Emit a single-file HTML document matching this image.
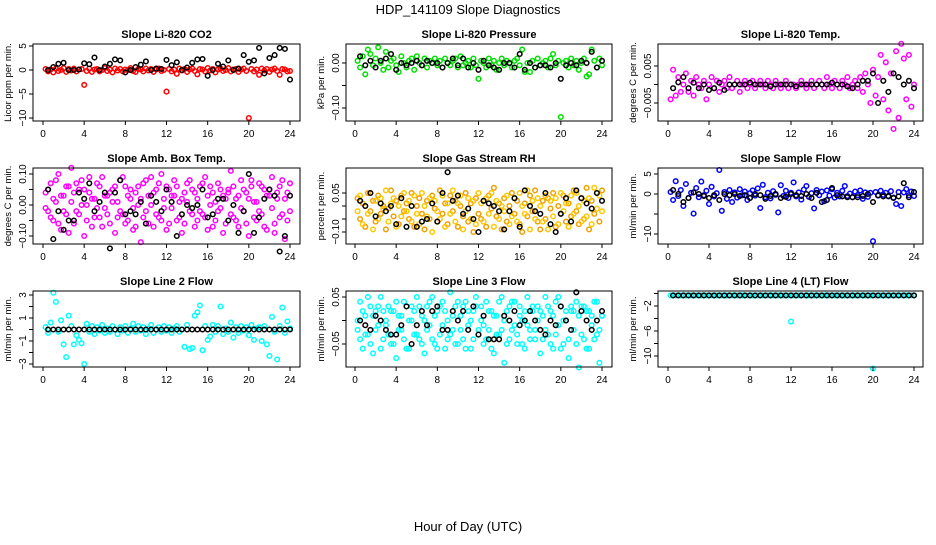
<!DOCTYPE html>
<html><head><meta charset="utf-8"><style>
html,body{margin:0;padding:0;background:#fff;}
svg text{font-family:"Liberation Sans",sans-serif;}
</style></head><body>
<svg id="fig" width="936" height="540" xmlns="http://www.w3.org/2000/svg">
<rect width="936" height="540" fill="#fff"/>
<text x="468" y="14" text-anchor="middle" font-size="13">HDP_141109  Slope Diagnostics</text>
<text x="468" y="531" text-anchor="middle" font-size="13">Hour of Day (UTC)</text>
</svg>
<script>
const hours96=[0.25,0.5,0.75,1,1.25,1.5,1.75,2,2.25,2.5,2.75,3,3.25,3.5,3.75,4,4.25,4.5,4.75,5,5.25,5.5,5.75,6,6.25,6.5,6.75,7,7.25,7.5,7.75,8,8.25,8.5,8.75,9,9.25,9.5,9.75,10,10.25,10.5,10.75,11,11.25,11.5,11.75,12,12.25,12.5,12.75,13,13.25,13.5,13.75,14,14.25,14.5,14.75,15,15.25,15.5,15.75,16,16.25,16.5,16.75,17,17.25,17.5,17.75,18,18.25,18.5,18.75,19,19.25,19.5,19.75,20,20.25,20.5,20.75,21,21.25,21.5,21.75,22,22.25,22.5,22.75,23,23.25,23.5,23.75,24];
const hours48=[0.5,1,1.5,2,2.5,3,3.5,4,4.5,5,5.5,6,6.5,7,7.5,8,8.5,9,9.5,10,10.5,11,11.5,12,12.5,13,13.5,14,14.5,15,15.5,16,16.5,17,17.5,18,18.5,19,19.5,20,20.5,21,21.5,22,22.5,23,23.5,24];
const xTicks=[0,4,8,12,16,20,24];

const co2Color=[0.2,-0.3,0.1,-0.5,0.3,-0.2,0,0.4,-0.4,0.2,-0.1,0.3,-0.3,0.1,0.2,-3.1,-0.2,0.3,-0.4,0.1,0.2,-0.3,0,0.4,-0.2,0.1,-0.5,0.3,-0.1,0.2,-0.3,0.1,0,0.4,-0.2,-0.4,0.2,0.1,-0.3,0.3,-0.1,0.2,-0.4,0.1,0.3,-0.2,0,-4.5,0.2,-0.3,0.1,-0.8,0.3,-0.1,0.2,-0.4,0.1,0.3,-0.2,-0.9,0.2,0.1,-0.3,0.4,-0.1,0.2,-0.5,0.1,0.3,-0.2,0,0.4,-0.3,0.1,0.2,-0.4,0.1,0.3,-0.2,-10,0.2,-0.3,0.1,-1.0,0.3,-0.1,0.2,-0.4,0.1,0.3,-0.2,-1.0,0.2,0.1,-0.3,-0.2];
const co2Black=[0,0.6,1.3,1.5,0,0,0.1,1.4,1.2,2.6,0,0.7,1.3,2.2,2.0,-0.5,0,0.6,1.1,1.8,0,0.3,0.2,2.1,1.0,1.6,0,0.5,1.5,2.2,2.3,-1.2,0,1.3,0.7,2.0,0,0.3,3.1,1.7,2.0,4.6,-0.7,2.5,3.1,4.6,4.4,-2.0];

const presColor=[0.005,-0.01,0.015,-0.025,0.03,0.02,-0.005,0.01,0.035,0.0,-0.015,0.025,-0.01,0.005,0.01,-0.005,-0.02,0.015,0.0,-0.01,0.005,0.01,-0.015,0.015,0.0,-0.005,0.01,-0.01,0.005,0.0,0.01,-0.005,0.005,-0.01,0.01,0.0,-0.005,0.005,0.01,-0.01,0.015,-0.005,0.0,0.005,-0.01,0.01,-0.005,-0.035,0.005,0.0,-0.01,0.01,-0.005,0.005,-0.015,0.0,0.01,-0.005,0.005,0.0,-0.01,0.005,0.01,-0.005,0.03,-0.02,0.0,-0.02,0.005,-0.01,0.01,-0.005,0.0,0.005,-0.01,0.01,0.02,-0.005,0.005,-0.12,0.0,0.005,-0.01,0.01,-0.005,0.005,-0.015,0.0,0.01,-0.03,-0.025,0.03,0.005,-0.01,0.01,-0.005];
const presBlack=[0.015,-0.005,0.005,-0.01,0.005,0.01,0.02,-0.015,0.0,-0.005,0.0,0.005,-0.005,0.005,0.0,0.0,-0.01,0.0,0.01,-0.005,0.01,-0.01,0.0,-0.015,0.005,-0.005,-0.01,-0.015,0.0,0.0,-0.01,0.02,-0.015,0.0,-0.01,-0.005,-0.005,-0.01,0.0,-0.035,-0.005,0.0,-0.005,0.005,0.0,0.025,-0.01,0.005];

const tempColor=[-0.004,0.004,-0.003,0.002,-0.002,0.0,0.003,-0.002,0.001,-0.003,0.002,0.0,-0.001,0.001,-0.004,0.0,0.002,-0.001,0.001,-0.002,0.0,0.001,-0.001,0.002,-0.001,0.0,0.001,-0.002,0.0,0.001,-0.001,0.0,0.001,-0.001,0.0,0.001,0.0,-0.001,0.001,0.0,-0.001,0.001,0.0,-0.001,0.0,0.001,-0.001,0.0,0.0,-0.001,0.0,0.001,0.0,-0.001,0.0,0.001,-0.001,0.0,0.001,0.0,-0.001,0.002,0.0,-0.001,0.001,0.0,-0.001,0.001,0.0,0.002,-0.001,0.0,0.001,-0.001,0.002,-0.002,0.003,0.0,-0.005,0.004,-0.003,0.002,0.008,-0.004,0.006,-0.007,0.003,-0.012,0.009,-0.009,0.011,0.007,-0.004,0.008,-0.006,0.0];
const tempBlack=[-0.001,0.0006,0.002,-0.001,0.0005,-0.001,0.0,-0.0015,-0.001,0.0005,-0.0015,0.0,0.0,0.0,0.0,0.0005,0.0,0.0,0.0,-0.0005,0.0,0.0,0.0,0.0,-0.0005,0.0,0.0,0.0,0.0,0.0,0.0,0.0005,0.0,0.0,-0.0005,-0.001,0.0,0.001,0.001,0.003,-0.005,0.001,-0.002,0.003,0.002,0.0,0.001,-0.001];

const boxColor=[0.04,-0.02,0.07,-0.05,0.01,0.1,-0.08,0.03,-0.03,0.06,0.12,-0.06,-0.02,0.05,0.08,-0.1,0.0,0.04,-0.07,0.02,0.07,-0.04,0.09,-0.01,0.03,-0.06,0.05,-0.09,0.01,0.08,-0.03,0.06,-0.05,0.02,-0.08,0.04,0.0,-0.12,0.07,-0.02,0.03,0.09,-0.07,0.05,-0.04,0.1,-0.01,0.06,-0.06,0.03,0.08,-0.05,0.01,-0.09,0.04,0.07,-0.02,0.05,-0.07,0.02,0.06,-0.03,0.09,-0.08,0.0,0.04,-0.05,0.07,-0.01,0.03,-0.06,0.05,0.11,-0.04,0.02,-0.07,0.08,-0.02,0.04,-0.1,0.06,0.01,-0.05,0.07,-0.03,0.05,-0.08,0.03,0.09,-0.06,0.02,-0.04,0.08,-0.11,0.04,-0.02];
const boxColor2=[-0.01,0.05,-0.04,0.02,0.08,-0.06,0.03,-0.02,0.06,-0.09,0.01,0.04,0.07,-0.03,0.0,0.05,-0.05,0.09,0.02,-0.04,-0.01,0.06,-0.07,0.03,-0.03,0.04,0.01,0.06,-0.04,-0.02,0.09,-0.06,0.03,0.05,-0.01,-0.07,0.06,0.02,-0.04,0.08,-0.06,0.0,0.04,-0.03,0.07,-0.05,0.02,-0.08,0.05,-0.01,0.03,0.06,-0.04,0.02,-0.06,0.01,0.08,-0.03,0.04,-0.05,-0.02,0.07,-0.04,0.03,0.06,-0.07,0.01,-0.02,0.05,-0.09,0.02,0.04,-0.03,0.06,-0.05,0.03,-0.01,0.05,-0.06,0.02,0.08,-0.04,0.01,-0.02,0.06,-0.07,0.03,0.05,-0.01,-0.09,0.04,0.06,-0.03,0.02,-0.05,0.07];
const boxBlack=[0.05,-0.11,-0.02,-0.08,-0.05,-0.05,0.04,0.02,0.07,-0.02,0.01,0.04,-0.14,0.04,0.08,-0.03,-0.02,-0.03,0.01,-0.06,0.03,0.01,-0.02,0.05,0.01,-0.1,-0.03,0.0,-0.01,0.0,0.05,-0.04,-0.03,0.02,0.02,-0.05,0.0,-0.09,-0.02,0.1,-0.09,-0.04,0.02,0.05,0.03,-0.15,-0.1,0.03];

const rhColor=[0.03,-0.05,0.01,-0.08,0.05,-0.02,0.02,-0.06,0.04,-0.03,0.0,-0.09,-0.01,0.06,-0.04,0.02,-0.07,0.04,-0.02,0.01,-0.05,0.05,-0.08,0.0,0.03,-0.03,-0.09,0.02,-0.05,0.04,-0.01,-0.06,0.06,-0.03,0.01,-0.07,0.04,-0.02,0.02,-0.08,0.0,-0.04,0.05,-0.06,0.01,-0.1,0.03,-0.03,-0.05,0.02,-0.08,0.04,-0.01,0.07,-0.04,0.01,-0.09,0.03,-0.06,0.0,0.05,-0.03,0.02,-0.07,-0.1,0.01,-0.04,0.04,-0.02,0.06,-0.06,-0.09,0.02,-0.05,0.03,-0.01,0.05,-0.08,0.0,-0.03,0.04,-0.06,0.01,-0.04,0.06,-0.02,-0.07,0.03,-0.05,0.07,-0.09,0.02,-0.03,0.05,-0.06,0.06];
const rhColor2=[-0.02,0.04,-0.07,0.0,-0.03,0.05,-0.09,0.02,-0.05,0.03,-0.01,0.06,-0.06,0.01,0.03,-0.08,0.0,-0.04,0.05,-0.02,0.02,-0.06,0.04,-0.03,-0.07,0.05,0.0,-0.04,0.03,-0.1,0.02,-0.02,-0.05,0.04,-0.08,0.01,-0.03,0.06,-0.06,0.01,0.04,-0.09,-0.02,0.03,-0.05,0.02,-0.07,0.05,0.01,-0.06,0.03,-0.03,0.05,-0.08,0.02,-0.05,0.0,-0.02,0.04,-0.07,-0.04,0.03,-0.06,0.05,0.0,-0.03,0.06,-0.09,0.02,-0.05,0.03,0.0,-0.06,0.04,-0.09,0.02,-0.04,0.03,-0.07,0.05,-0.02,0.01,-0.08,0.04,-0.03,0.05,0.0,-0.06,0.02,-0.04,0.03,-0.07,0.07,-0.01,0.04,-0.02];
const rhBlack=[0.02,0.0,0.05,-0.04,0.01,-0.02,0.0,-0.07,0.03,-0.08,0.0,-0.08,-0.06,-0.05,0.01,-0.06,0.05,0.13,0.02,0.04,-0.03,-0.01,-0.05,-0.1,0.02,0.01,0.0,-0.02,-0.09,-0.02,0.03,-0.08,0.06,0.0,-0.02,-0.03,0.05,-0.07,-0.1,-0.03,0.03,-0.06,0.06,0.03,0.01,-0.01,0.05,0.02];

const flowColor=[0.5,-1.5,3.2,-0.5,1.0,-3.0,2.5,-1.0,0.3,-4.9,1.5,-0.8,3.1,-0.3,0.8,-2.5,1.8,-0.6,0.2,6.0,-4.2,0.5,-1.2,1.0,-2.0,0.4,-0.9,1.2,-0.3,0.6,-1.5,0.2,0.9,-0.4,1.4,-3.5,2.3,-0.8,0.3,-1.1,0.7,-0.2,-4.6,2.2,-0.5,0.8,-1.0,0.3,2.9,-0.6,0.4,-1.4,1.1,2.0,-0.7,0.2,-3.6,1.0,-0.3,0.6,-1.8,0.9,-0.4,1.2,-0.9,0.3,-0.6,0.8,2.0,-0.5,0.1,-0.8,0.6,-0.3,0.9,-1.2,0.4,-0.7,0.3,-11.8,0.5,-0.4,0.8,-0.2,0.3,-0.6,0.7,-0.9,-2.5,0.5,-3.0,0.4,1.2,-0.3,0.6,-0.5];
const flowBlack=[1.0,0.0,-2.0,-1.0,0.4,0.0,-0.5,-1.0,-0.3,-1.5,0.0,-0.3,0.0,-0.5,-0.3,-1.0,0.0,-0.3,-1.2,-0.5,0.0,-1.0,-0.7,0.0,-0.3,-0.5,0.0,-1.0,0.3,-2.0,-1.5,1.5,-0.3,-0.6,-0.8,-0.8,-0.8,-0.5,0.0,-2.0,-0.3,-0.6,-0.5,-1.0,-0.6,2.7,-0.8,0.5];

const line2Color=[0.2,-0.3,0.6,3.2,2.4,-0.2,0.8,-1.3,-2.4,1.2,0.3,-1.3,-0.5,-0.9,-1.2,-3.0,0.5,-0.2,0.3,-0.4,0.2,-0.1,0.4,-0.3,0.1,-0.2,0.3,0.0,-0.4,0.2,-0.1,0.3,-0.3,0.1,0.5,-0.2,0.3,-0.1,0.2,-0.4,0.1,0.4,-0.3,0.0,0.2,-0.2,0.3,-0.1,0.2,-0.3,0.1,0.3,-0.2,0.0,-1.5,0.4,-1.7,-1.6,1.2,1.5,2.1,-1.8,0.3,-0.9,-0.6,0.4,-0.2,0.3,2.0,-0.4,0.1,-0.2,0.6,-0.7,0.2,-0.3,0.3,-0.1,0.2,-0.5,0.4,-0.9,0.1,0.2,-1.0,0.3,-1.3,-2.3,1.1,-0.2,-2.6,0.3,1.9,-0.3,0.7,0.1];
const line2Black=[0,0,0,0,0,0,0,0,0,0,0,0,0,0,0,0,0,0,0,0,0,0,0,0,0,0,0,0,0,0,0,0,0,0,0,0,0,0,0,0,0,0,0,0,0,0,0,0];

const line3Color=[-0.02,0.04,-0.06,0.01,-0.03,0.03,-0.07,0.02,-0.01,0.05,-0.04,0.0,0.03,-0.05,0.02,-0.08,0.01,-0.02,0.04,-0.06,0.0,0.03,-0.03,0.05,-0.04,0.01,-0.07,0.03,-0.01,0.05,-0.05,0.02,-0.03,0.04,-0.06,0.0,0.06,-0.02,0.03,-0.05,0.01,-0.04,0.04,-0.01,-0.06,0.02,0.03,-0.03,0.0,-0.05,0.04,-0.02,0.02,-0.07,0.01,-0.03,0.05,-0.09,0.02,-0.04,0.04,-0.01,-0.05,0.03,0.0,-0.06,0.05,-0.02,0.02,-0.04,0.03,-0.07,0.01,0.05,-0.03,0.02,-0.06,0.04,-0.01,0.03,-0.05,0.0,-0.08,0.02,-0.02,0.04,-0.1,0.03,-0.04,0.02,-0.06,0.01,0.04,-0.03,-0.09,0.01];
const line3Color2=[0.0,-0.04,0.02,-0.03,0.05,-0.05,0.01,-0.02,0.03,-0.06,0.02,-0.01,-0.03,0.02,-0.05,0.04,-0.02,0.01,-0.04,0.03,-0.06,0.0,0.02,-0.03,0.03,-0.05,0.0,-0.02,0.04,-0.04,0.01,-0.06,0.03,-0.01,0.02,-0.04,-0.03,0.01,-0.05,0.04,-0.02,0.03,-0.06,0.02,0.0,-0.04,0.05,-0.02,0.03,-0.01,-0.04,0.02,-0.06,0.01,-0.03,0.04,-0.02,0.0,-0.05,0.03,-0.02,0.04,-0.03,0.01,-0.05,0.02,-0.01,-0.04,0.03,-0.02,0.0,0.02,-0.04,-0.02,0.03,-0.05,0.01,-0.03,0.05,-0.06,0.0,0.02,-0.04,0.03,0.02,-0.05,0.01,-0.03,0.03,-0.06,0.02,-0.01,-0.04,0.04,-0.02,0.01];
const line3Black=[0.0,-0.01,-0.02,0.01,0.0,-0.02,-0.03,-0.03,-0.01,0.03,-0.05,-0.01,0.02,-0.01,0.02,0.03,-0.02,-0.02,0.02,0.0,0.02,-0.02,0.03,-0.03,0.01,-0.04,-0.04,-0.04,0.01,0.0,0.02,-0.01,0.0,0.02,0.0,-0.02,-0.03,0.0,-0.01,0.03,0.0,-0.02,0.06,0.02,0.0,-0.02,0.0,0.02];

const line4Color=[-0.3,-0.3,-0.3,-0.3,-0.3,-0.3,-0.3,-0.3,-0.3,-0.3,-0.3,-0.3,-0.3,-0.3,-0.3,-0.3,-0.3,-0.3,-0.3,-0.3,-0.3,-0.3,-0.3,-0.3,-0.3,-0.3,-0.3,-0.3,-0.3,-0.3,-0.3,-0.3,-0.3,-0.3,-0.3,-0.3,-0.3,-0.3,-0.3,-0.3,-0.3,-0.3,-0.3,-0.3,-0.3,-0.3,-0.3,-4.5,-0.3,-0.3,-0.3,-0.3,-0.3,-0.3,-0.3,-0.3,-0.3,-0.3,-0.3,-0.3,-0.3,-0.3,-0.3,-0.3,-0.3,-0.3,-0.3,-0.3,-0.3,-0.3,-0.3,-0.3,-0.3,-0.3,-0.3,-0.3,-0.3,-0.3,-0.3,-12,-0.3,-0.3,-0.3,-0.3,-0.3,-0.3,-0.3,-0.3,-0.3,-0.3,-0.3,-0.3,-0.3,-0.3,-0.3,-0.3];
const line4Black=[-0.3,-0.3,-0.3,-0.3,-0.3,-0.3,-0.3,-0.3,-0.3,-0.3,-0.3,-0.3,-0.3,-0.3,-0.3,-0.3,-0.3,-0.3,-0.3,-0.3,-0.3,-0.3,-0.3,-0.3,-0.3,-0.3,-0.3,-0.3,-0.3,-0.3,-0.3,-0.3,-0.3,-0.3,-0.3,-0.3,-0.3,-0.3,-0.3,-0.3,-0.3,-0.3,-0.3,-0.3,-0.3,-0.3,-0.3,-0.3];

const NS="http://www.w3.org/2000/svg";
const svg=document.getElementById('fig');
function mk(tag,attrs,parent){const e=document.createElementNS(NS,tag);for(const k in attrs)e.setAttribute(k,attrs[k]);(parent||svg).appendChild(e);return e;}

// layout: col boxes [left,right,x0px,x24px]; row boxes [top,bottom]
const cols=[[33,300,43,290],[346,612,355,602],[658,923,668,914]];
const rows=[[44,121],[168,244],[291,367]];
const panels=[
 {name:'co2',title:'Slope Li-820 CO2',ylab:'Licor ppm per min.',c:0,r:0,v1:5,p1:46,v2:-10,p2:118,ticks:[5,0,-5,-10],labels:['5','0','-5','-10'],series:[[co2Color,'#ff0000']],black:co2Black},
 {name:'pressure',title:'Slope Li-820 Pressure',ylab:'kPa per min.',c:1,r:0,v1:0,p1:63,v2:-0.1,p2:108,ticks:[0,-0.05,-0.1],labels:['0.00','','-0.10'],series:[[presColor,'#00e000']],black:presBlack},
 {name:'licor-temp',title:'Slope Li-820 Temp.',ylab:'degrees C per min.',c:2,r:0,v1:0.005,p1:66,v2:-0.005,p2:103,ticks:[0.005,0,-0.005],labels:['0.005','','-0.005'],series:[[tempColor,'#ff00ff']],black:tempBlack},
 {name:'box-temp',title:'Slope Amb. Box Temp.',ylab:'degrees C per min.',c:0,r:1,v1:0.1,p1:174,v2:-0.1,p2:236,ticks:[0.1,0.05,0,-0.05,-0.1],labels:['0.10','','0.00','','-0.10'],series:[[boxColor,'#ff00ff'],[boxColor2,'#ff00ff']],black:boxBlack},
 {name:'gas-rh',title:'Slope Gas Stream RH',ylab:'percent per min.',c:1,r:1,v1:0.05,p1:193,v2:-0.1,p2:232,ticks:[0.05,0,-0.05,-0.1],labels:['0.05','','','-0.10'],series:[[rhColor,'#f0a000'],[rhColor2,'#ffc800']],black:rhBlack},
 {name:'sample-flow',title:'Slope Sample Flow',ylab:'ml/min per min.',c:2,r:1,v1:5,p1:174,v2:-10,p2:234,ticks:[5,0,-5,-10],labels:['5','0','','-10'],series:[[flowColor,'#0000ff']],black:flowBlack},
 {name:'line2-flow',title:'Slope Line 2 Flow',ylab:'ml/min per min.',c:0,r:2,v1:3,p1:295,v2:-3,p2:364,ticks:[3,2,1,0,-1,-2,-3],labels:['3','','1','','-1','','-3'],series:[[line2Color,'#00ffff']],black:line2Black},
 {name:'line3-flow',title:'Slope Line 3 Flow',ylab:'ml/min per min.',c:1,r:2,v1:0.05,p1:297,v2:-0.05,p2:344,ticks:[0.05,0,-0.05],labels:['0.05','','-0.05'],series:[[line3Color,'#00ffff'],[line3Color2,'#00ffff']],black:line3Black},
 {name:'line4-flow',title:'Slope Line 4 (LT) Flow',ylab:'ml/min per min.',c:2,r:2,v1:-2,p1:306,v2:-10,p2:356,ticks:[0,-2,-4,-6,-8,-10],labels:['','-2','','-6','','-10'],series:[[line4Color,'#00ffff']],black:line4Black}
];

panels.forEach(P=>{
  const [L,R,x0,x24]=cols[P.c];const [T,B]=rows[P.r];
  const xs=h=>x0+(x24-x0)*h/24;
  const ys=v=>P.p1+(P.p2-P.p1)*(v-P.v1)/(P.v2-P.v1);
  const g=mk('g',{});
  
  
  const t=mk('text',{x:(L+R)/2,y:T-6,'text-anchor':'middle','font-size':'11','font-weight':'bold'},g);
  t.textContent=P.title;
  
  
  const yl=mk('text',{x:0,y:0,'text-anchor':'middle','font-size':'9.5',transform:`translate(${L-22},${(T+B)/2}) rotate(-90)`},g);
  yl.textContent=P.ylab;
  
  
  const clip=mk('g',{},g);
  
  
  P.series.forEach(([arr,col])=>{
    arr.forEach((v,i)=>{
      if(i>=hours96.length)return;
      const c=mk('circle',{cx:xs(hours96[i]).toFixed(1),cy:ys(v).toFixed(1),r:2.3,fill:'none',stroke:col,'stroke-width':1.5},clip);
      
      
    });
  });
  P.black.forEach((v,i)=>{
    if(i>=hours48.length)return;
    const c=mk('circle',{cx:xs(hours48[i]).toFixed(1),cy:ys(v).toFixed(1),r:2.3,fill:'none',stroke:'#000','stroke-width':1.5},clip);
    
    
  });
  const box=mk('rect',{x:L,y:T,width:R-L,height:B-T,fill:'none',stroke:'#000','stroke-width':1},g);
  
  
  xTicks.forEach(h=>{
    const x=xs(h);
    mk('line',{x1:x,x2:x,y1:B,y2:B+4,stroke:'#000'},g);
    const tl=mk('text',{x:x,y:B+16,'text-anchor':'middle','font-size':'10'},g);
    tl.textContent=h;
    
    
  });
  mk('line',{x1:x0,x2:x24,y1:B,y2:B,stroke:'#000'},g);
  P.ticks.forEach((v,i)=>{
    const y=ys(v);
    mk('line',{x1:L-4,x2:L,y1:y,y2:y,stroke:'#000'},g);
    if(P.labels[i]){
      const tl=mk('text',{x:0,y:0,'text-anchor':'middle','font-size':'10',transform:`translate(${L-7},${y}) rotate(-90)`},g);
      tl.textContent=P.labels[i].replace('-','\u2212');
      
      
    }
  });
});
</script>
</body></html>
